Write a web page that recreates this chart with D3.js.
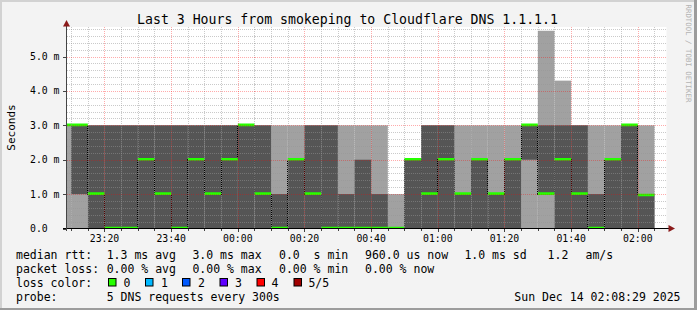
<!DOCTYPE html>
<html><head><meta charset="utf-8">
<script src="https://cdn.jsdelivr.net/npm/d3@7"></script>
<style>
body{margin:0;background:#f3f3f3}
svg{display:block}
text{font-family:"DejaVu Sans Mono",monospace;white-space:pre}
</style>
</head><body>
<svg id="c" width="697" height="310"></svg>
<script>
// ---- data ----
const intervalEnds = ["23:10","23:15","23:20","23:25","23:30","23:35","23:40","23:45","23:50","23:55",
  "00:00","00:05","00:10","00:15","00:20","00:25","00:30","00:35","00:40","00:45","00:50","00:55",
  "01:00","01:05","01:10","01:15","01:20","01:25","01:30","01:35","01:40","01:45","01:50","01:55",
  "02:00","02:05"];
// sorted ping round-trip times (ms) per 5-minute interval
const ping1 = [0,0,0,0,0,0,0,0,0,0,0,0,0,0,0,0,0,0,0,0,0,0,0,0,0,0,0,0,0,0,0,0,0,0,0,0];
const ping2 = [3,1,0,0,0,0,0,0,0,0,0,0,0,0,0,0,0,0,0,0,0,0,0,0,0,0,0,0,2,1,0,0,0,0,0,0];
const median = [3,3,1,0,0,2,1,0,2,1,2,3,1,0,2,1,0,0,0,0,0,2,1,2,1,2,1,2,3,1,2,1,0,2,3,0.96];
const ping4 = [3,3,3,3,3,3,3,3,3,3,3,3,3,1,2,3,3,1,2,1,0,2,3,3,1,2,1,2,3,3,3,3,1,2,3,1];
const ping5 = [3,3,3,3,3,3,3,3,3,3,3,3,3,3,3,3,3,3,3,3,1,2,3,3,3,3,3,3,3,5.75,4.3,3,3,3,3,3];
const yTicks = [0,1,2,3,4,5];
const yTickLabels = ["0.0  ","1.0 m","2.0 m","3.0 m","4.0 m","5.0 m"];
const title = "Last 3 Hours from smokeping to Cloudflare DNS 1.1.1.1";
const lossLabels = ["0","1","2","3","4","5/5"];
const lossColors = ["#26ff00","#00b8ff","#0059ff","#5e00ff","#ff0000","#a00000"];

// ---- setup ----
const svg = d3.select("#c");
const W = 697, H = 310;
const L = 66.5, R = 666.5, T = 27, B = 228.5;
const t0 = new Date(2025,11,13,23,8,29), t1 = new Date(2025,11,14,2,8,29);
const x = d3.scaleTime().domain([t0,t1]).range([66.1,666.1]);
const y = d3.scaleLinear().domain([0,5.86]).range([B,T]);
function parseT(s){const [h,m]=s.split(":").map(Number);return h>=12?new Date(2025,11,13,h,m):new Date(2025,11,14,h,m);}
const bars = intervalEnds.map((s,i)=>{const e=parseT(s);return {s:d3.timeMinute.offset(e,-5),e,p1:ping1[i],p2:ping2[i],p3:median[i],p4:ping4[i],p5:ping5[i]};});

// background + frame
svg.append("rect").attr("width",W).attr("height",H).attr("fill","#f3f3f3");
svg.append("rect").attr("x",0).attr("y",0).attr("width",W).attr("height",2).attr("fill","#d2d2d2");
svg.append("rect").attr("x",0).attr("y",0).attr("width",2).attr("height",H).attr("fill","#d2d2d2");
svg.append("rect").attr("x",0).attr("y",H-2).attr("width",W).attr("height",2).attr("fill","#9c9c9c");
svg.append("rect").attr("x",W-3).attr("y",0).attr("width",3).attr("height",H).attr("fill","#9c9c9c");

// plot area
svg.append("rect").attr("x",L).attr("y",T).attr("width",R-L).attr("height",B-T).attr("fill","#fff");
svg.append("clipPath").attr("id","pc").append("rect").attr("x",L).attr("y",T-5).attr("width",R-L).attr("height",B-T+5);
const g = svg.append("g").attr("clip-path","url(#pc)");

// smoke
g.selectAll(".lt").data(bars).join("rect")
  .attr("x",d=>x(d.s)).attr("width",d=>x(d.e)-x(d.s))
  .attr("y",d=>y(d.p5)).attr("height",d=>y(d.p1)-y(d.p5)).attr("fill","#a1a1a1");
g.selectAll(".dk").data(bars).join("rect")
  .attr("x",d=>x(d.s)).attr("width",d=>x(d.e)-x(d.s))
  .attr("y",d=>y(d.p4)).attr("height",d=>y(d.p2)-y(d.p4)).attr("fill","#555555");

// grid on top (semi transparent)
const minorX = x.ticks(d3.timeMinute.every(5));
const majorX = x.ticks(d3.timeMinute.every(20));
const majorSet = new Set(majorX.map(d=>+d));
const minorY = d3.range(1,30).map(i=>i*0.2).filter(v=>Math.abs(v-Math.round(v))>1e-6 && v<5.86);
const grid = svg.append("g").attr("shape-rendering","crispEdges");
grid.selectAll(".gx").data(minorX.filter(d=>!majorSet.has(+d))).join("line")
  .attr("x1",d=>Math.round(x(d))+0.5).attr("x2",d=>Math.round(x(d))+0.5).attr("y1",T).attr("y2",B)
  .attr("stroke","rgba(150,150,150,0.5)").attr("stroke-dasharray","1,1");
grid.selectAll(".gy").data(minorY).join("line")
  .attr("x1",L).attr("x2",R).attr("y1",d=>Math.round(y(d))+0.5).attr("y2",d=>Math.round(y(d))+0.5)
  .attr("stroke","rgba(150,150,150,0.5)").attr("stroke-dasharray","1,1");
grid.selectAll(".mx").data(majorX).join("line")
  .attr("x1",d=>Math.round(x(d))+0.5).attr("x2",d=>Math.round(x(d))+0.5).attr("y1",T).attr("y2",B)
  .attr("stroke","rgba(255,0,0,0.33)").attr("stroke-dasharray","1,1");
grid.selectAll(".my").data(yTicks.filter(v=>v>0)).join("line")
  .attr("x1",L).attr("x2",R).attr("y1",d=>Math.round(y(d))+0.5).attr("y2",d=>Math.round(y(d))+0.5)
  .attr("stroke","rgba(255,0,0,0.33)").attr("stroke-dasharray","1,1");

// dotted step connectors of the median line
const stepPts = bars.map(d=>[x(d.s),y(d.p3)]).concat([[x(bars[bars.length-1].e),y(bars[bars.length-1].p3)]]);
g.append("path").attr("d",d3.line().curve(d3.curveStepAfter)(stepPts))
  .attr("fill","none").attr("stroke","#000").attr("stroke-width",1).attr("stroke-dasharray","1,1")
  .attr("shape-rendering","crispEdges");

// median lines (loss colour 0)
g.selectAll(".md").data(bars).join("line")
  .attr("x1",d=>x(d.s)).attr("x2",d=>x(d.e)).attr("y1",d=>y(d.p3)-0.5).attr("y2",d=>y(d.p3)-0.5)
  .attr("stroke",lossColors[0]).attr("stroke-width",2.6);

// axes
const ax = svg.append("g").attr("shape-rendering","crispEdges");
ax.append("line").attr("x1",63).attr("x2",670).attr("y1",228.5).attr("y2",228.5).attr("stroke","#000");
ax.append("line").attr("x1",66.5).attr("x2",66.5).attr("y1",231).attr("y2",24).attr("stroke","#444");
ax.selectAll(".tx").data(minorX).join("line")
  .attr("x1",d=>Math.round(x(d))+0.5).attr("x2",d=>Math.round(x(d))+0.5)
  .attr("y1",229).attr("y2",d=>majorSet.has(+d)?232:231).attr("stroke","#444");
ax.selectAll(".ty").data(yTicks).join("line")
  .attr("x1",63).attr("x2",66).attr("y1",d=>Math.round(y(d))+0.5).attr("y2",d=>Math.round(y(d))+0.5).attr("stroke","#444");
svg.append("path").attr("d","M66.5,20 L70,26.5 L63,26.5 Z").attr("fill","#8b1a1a");
svg.append("path").attr("d","M675,228.5 L668.5,225 L668.5,232 Z").attr("fill","#8b1a1a");

// tick labels
svg.selectAll(".xl").data(majorX).join("text")
  .attr("x",d=>x(d)).attr("y",241.5).attr("text-anchor","middle").attr("font-size","9.8px").attr("fill","#000")
  .text(d3.timeFormat("%H:%M"));
svg.selectAll(".yl").data(yTicks).join("text")
  .attr("x",59.5).attr("y",d=>y(d)+3.5).attr("text-anchor","end").attr("font-size","9.8px").attr("fill","#000")
  .text((d,i)=>yTickLabels[i]);

// title, unit, watermark
svg.append("text").attr("x",347.5).attr("y",24).attr("text-anchor","middle").attr("font-size","13.2px").text(title);
svg.append("text").attr("transform","translate(14.5,127.5) rotate(-90)").attr("text-anchor","middle").attr("font-size","11px").text("Seconds");
svg.append("text").attr("transform","translate(685.5,4.5) rotate(90)").attr("text-anchor","start").attr("font-size","7.4px").attr("fill","#b4b4b4").text("RRDTOOL / TOBI OETIKER");

// legend
const lf = "11.5px";
function lt(xp,yp,s,anchor){svg.append("text").attr("x",xp).attr("y",yp).attr("font-size",lf).attr("text-anchor",anchor||"start").text(s);}
lt(16,258.5,"median rtt:");
lt(106.7,258.5,"1.3 ms avg");
lt(192.4,258.5,"3.0 ms max");
lt(279,258.5,"0.0  s min");
lt(365,258.5,"960.0 us now");
lt(464.4,258.5,"1.0 ms sd");
lt(547.6,258.5,"1.2");
lt(585.5,258.5,"am/s");
lt(16,272.5,"packet loss:");
lt(106.7,272.5,"0.00 % avg");
lt(192.4,272.5,"0.00 % max");
lt(279,272.5,"0.00 % min");
lt(365,272.5,"0.00 % now");
lt(16,286.5,"loss color:");
const boxX = [108,145,182,219.5,256.5,293.5];
const labX = [123.6,161,198,235,271.6,308.4];
lossLabels.forEach((l,i)=>{
  svg.append("rect").attr("x",boxX[i]+0.5).attr("y",278.5).attr("width",7.5).attr("height",7.5)
    .attr("fill",lossColors[i]).attr("stroke","#000").attr("stroke-width",1);
  lt(labX[i],286.5,l);
});
lt(16,300.5,"probe:");
lt(106.7,300.5,"5 DNS requests every 300s");
lt(680.5,300.5,"Sun Dec 14 02:08:29 2025","end");
</script>
</body></html>
